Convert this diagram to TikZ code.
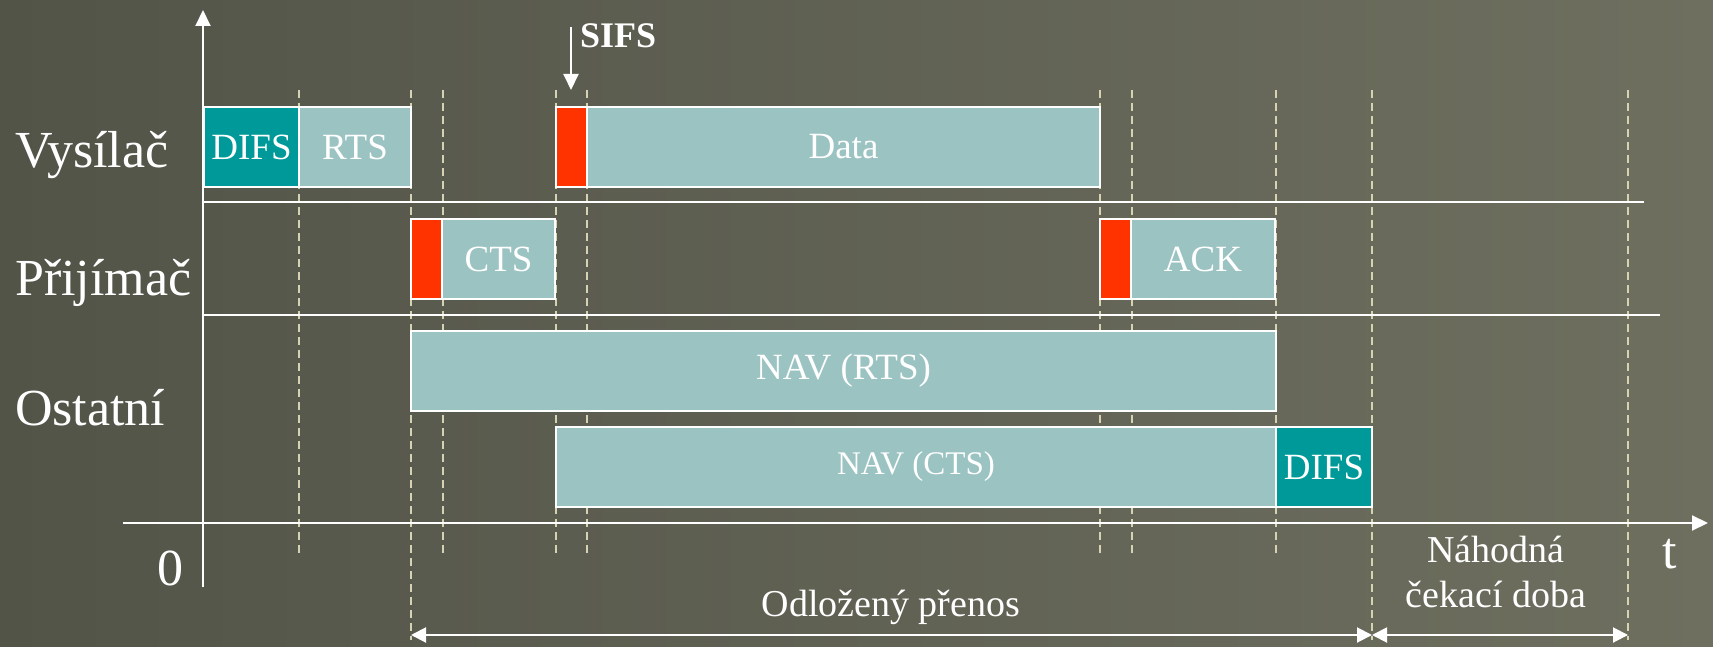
\documentclass[tikz,border=0pt]{standalone}
\usepackage{fontspec}
\setmainfont{Liberation Serif}
\usetikzlibrary{arrows.meta}
\usetikzlibrary{positioning}
\definecolor{bgdark}{RGB}{82,84,72}
\definecolor{bglight}{RGB}{110,111,95}
\definecolor{pktblue}{RGB}{155,195,194}
\definecolor{ifsteal}{RGB}{0,153,153}
\definecolor{sifsred}{RGB}{255,51,0}
\definecolor{guide}{RGB}{214,210,180}

\begin{document}
\begin{tikzpicture}[x=1pt, y=-1pt,
    frame/.style={draw=white, line width=2.5pt, inner sep=0pt, outer sep=0pt,
      minimum height=80pt, text=white, font=\fontsize{37}{40}\selectfont},
    pkt/.style={frame, fill=pktblue},
    ifs/.style={frame, fill=ifsteal},
    sifs/.style={frame, fill=sifsred, minimum width=31pt},
    lbl/.style={text=white, inner sep=0pt, font=\fontsize{52}{60}\selectfont},
    note/.style={text=white, inner sep=0pt, font=\fontsize{38}{45}\selectfont},
    tick/.style={draw=guide, line width=1.5pt, dash pattern=on 8pt off 5pt},
    rule/.style={draw=white, line width=2pt},
    arr/.style={rule, -{Triangle[length=16pt, width=15pt]}},
    span/.style={rule, {Triangle[length=15pt, width=15pt]}-{Triangle[length=15pt, width=15pt]}}]

    \shade[left color=bgdark, right color=bglight] (0,0) rectangle (1713,647);
    \useasboundingbox (0,0) rectangle (1713,647);

    % time marks
    \foreach \x in {299,443,556,587,1100,1132,1276}
        \draw[tick] (\x,90) -- (\x,555);
    \foreach \x in {411,1372,1628}
        \draw[tick] (\x,90) -- (\x,640);

    % axes
    \coordinate (ybot) at (203,587);
    \coordinate (ytop) at (203,10);
    \coordinate (xleft) at (123,523);
    \coordinate (xright) at (1708,523);
    \draw[arr] (ybot) -- (ytop);
    \draw[arr] (xleft) -- (xright);
    \draw[rule] (204,202) -- (1644,202);
    \draw[rule] (204,315) -- (1660,315);

    % Vysilac
    \node[ifs, minimum width=95pt, anchor=north west] (difs1) at (204,107) {DIFS};
    \node[pkt, minimum width=112pt, right=0pt of difs1] (rts) {RTS};
    \node[sifs, anchor=north west] (sifs1) at (556,107) {};
    \node[pkt, minimum width=513pt, right=0pt of sifs1] (data) {Data};
    % Prijimac
    \node[sifs, anchor=north west] (sifs2) at (411,219) {};
    \node[pkt, minimum width=113pt, right=0pt of sifs2] (cts) {CTS};
    \node[sifs, anchor=north west] (sifs3) at (1100,219) {};
    \node[pkt, minimum width=144pt, right=0pt of sifs3] (ack) {ACK};
    % Ostatni
    \node[pkt, minimum width=865pt, anchor=north west] (navrts) at (411,331) {NAV (RTS)};
    \node[pkt, minimum width=720pt, anchor=north west,
        font=\fontsize{33}{40}\selectfont] (navcts) at (556,427) {NAV (CTS)};
    \node[ifs, minimum width=96pt, right=0pt of navcts] (difs2) {DIFS};

    % SIFS mark
    \coordinate (sifsfrom) at (571,27);
    \coordinate (sifsto) at (571,90);
    \draw[arr] (sifsfrom) -- (sifsto);
    \node[text=white, inner sep=0pt, anchor=base west,
        font=\fontsize{36}{40}\selectfont\bfseries] (sifslbl) at (580,48) {SIFS};

    \node[lbl, anchor=base west] (tx) at (15,168) {Vysílač};
    \node[lbl, anchor=base west] (rx) at (15,295) {Přijímač};
    \node[lbl, anchor=base west] (others) at (15,425) {Ostatní};
    \node[lbl, anchor=base east] (zero) at (184,585) {0};
    \node[lbl, anchor=base west] (tlbl) at (1662,568) {t};

    % intervals
    \coordinate (deferA) at (411,635);
    \coordinate (deferB) at (1372,635);
    \coordinate (randB) at (1628,635);
    \draw[span] (deferA) -- (deferB);
    \draw[span] (deferB) -- (randB);
    \node[note, anchor=base] (deferlbl) at (891,616) {Odložený přenos};
    \node[note, align=center, anchor=north] (randlbl) at (1496,536) {Náhodná\\čekací doba};
\end{tikzpicture}
\end{document}
